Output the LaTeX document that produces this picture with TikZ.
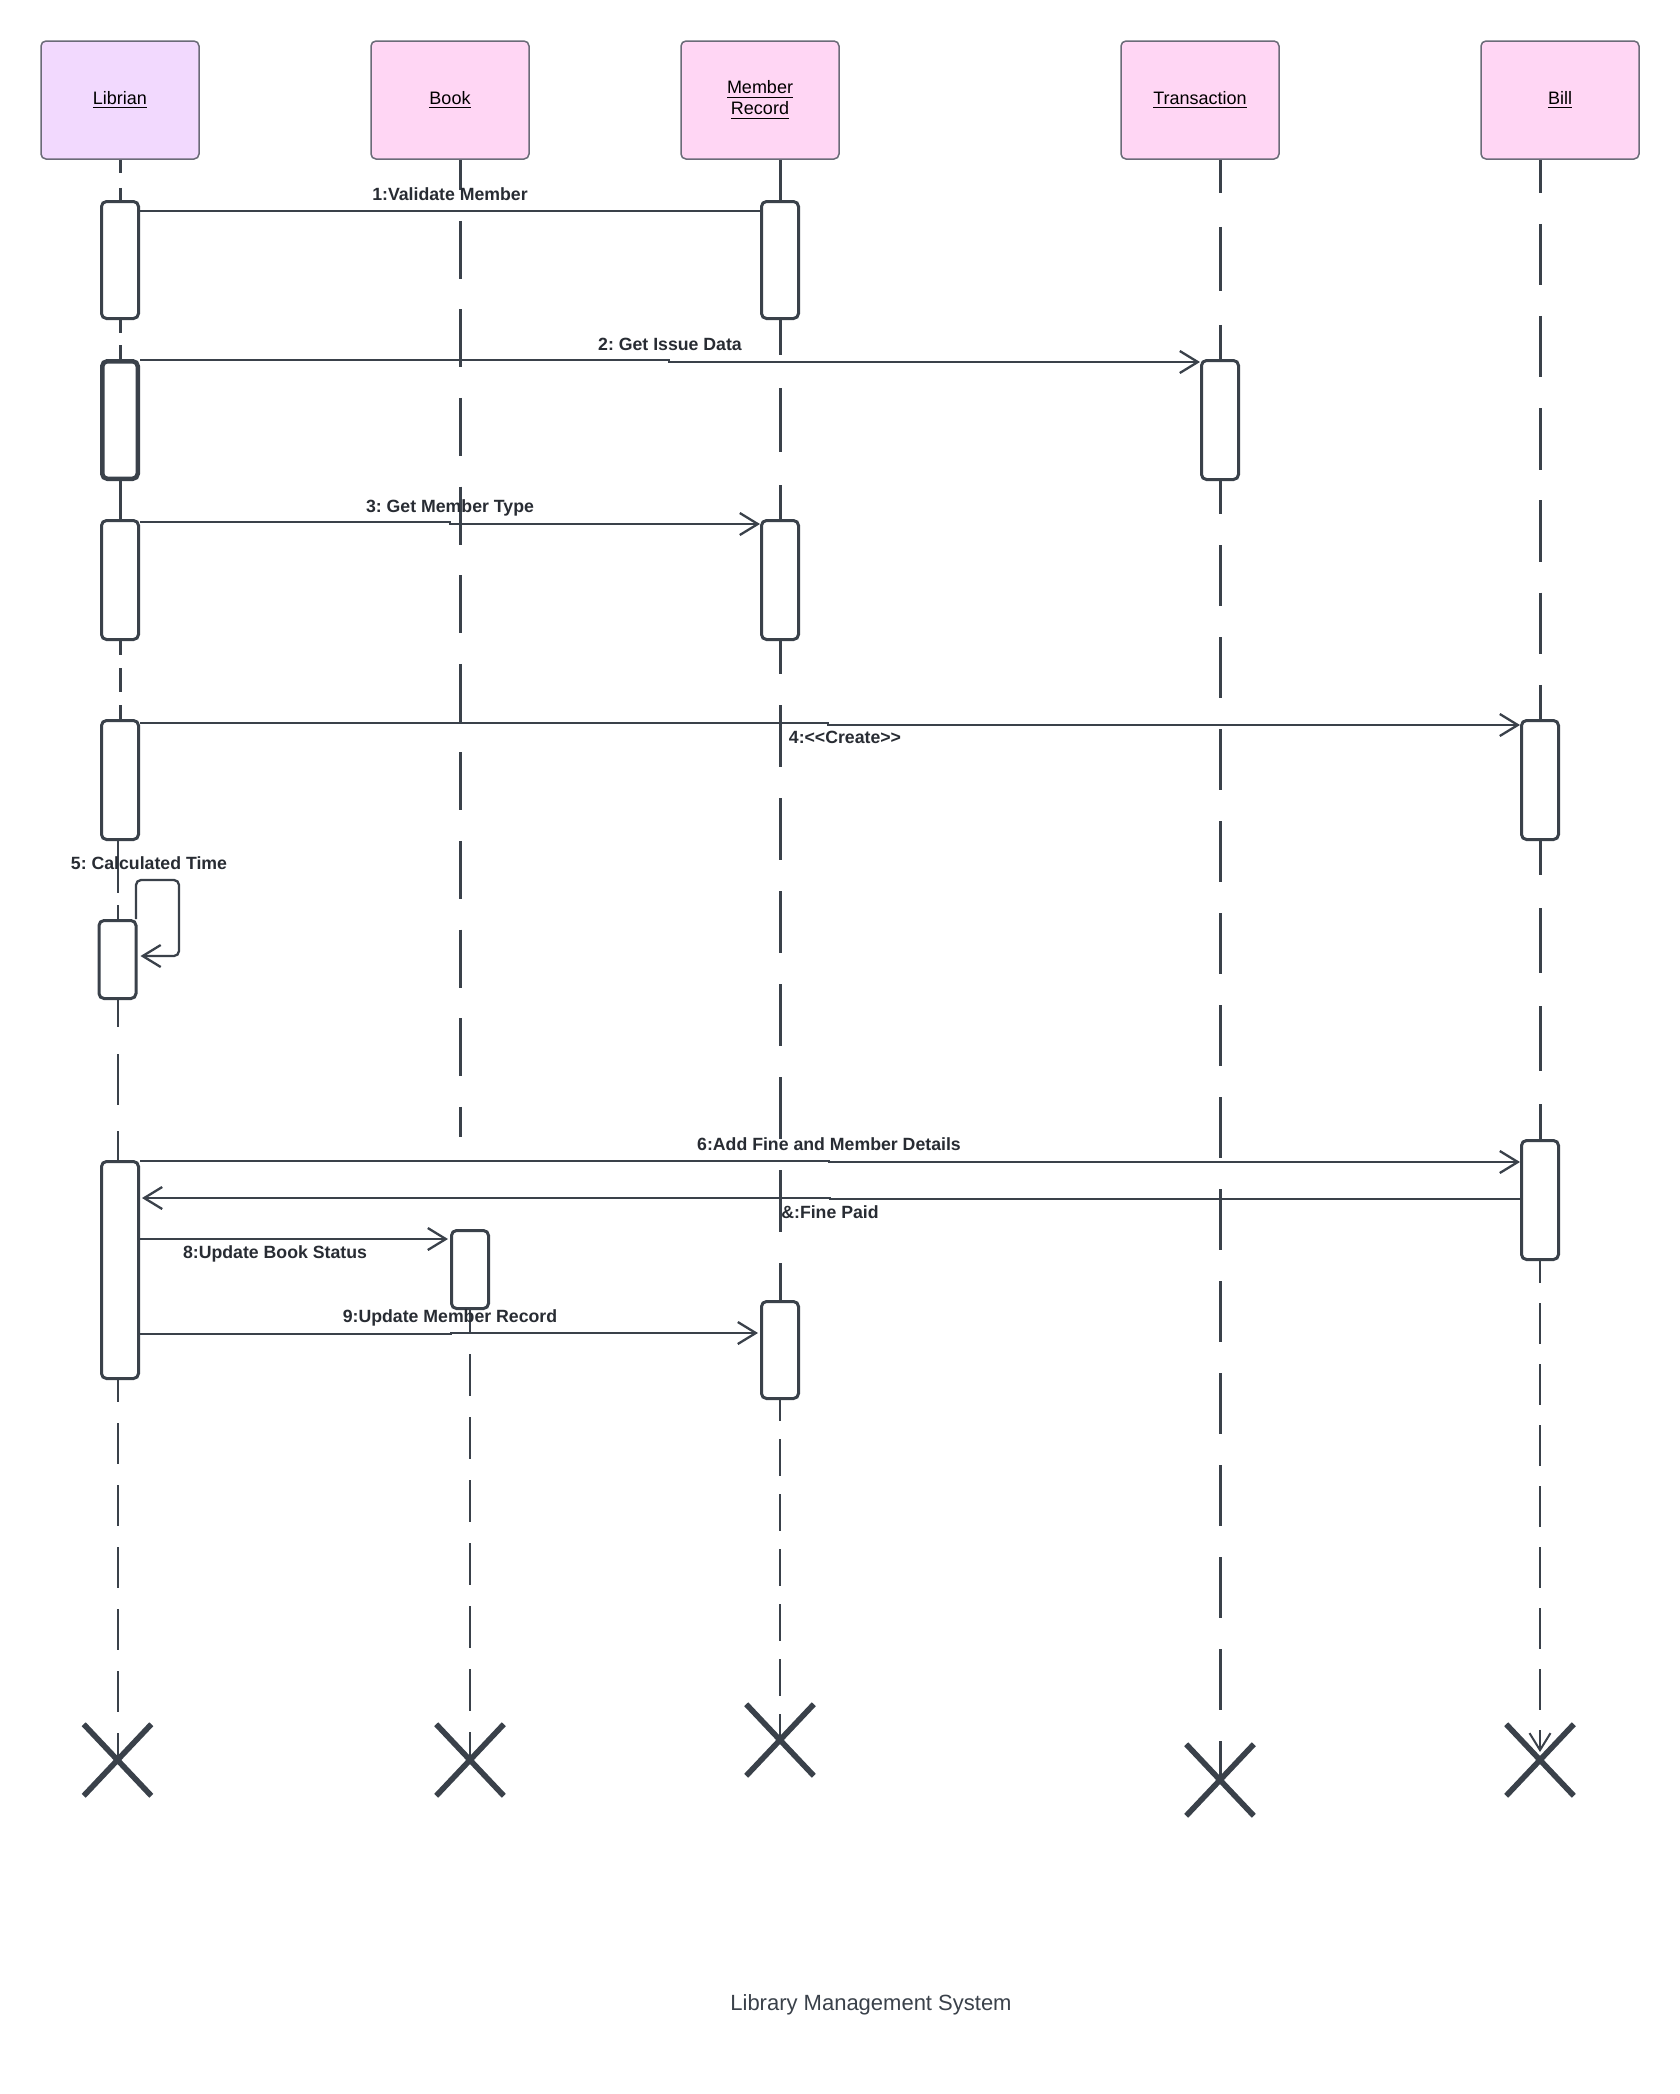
\documentclass[tikz,border=0pt]{standalone}
\usepackage{fontspec}
\setmainfont{Liberation Sans}
\usetikzlibrary{arrows.meta,shapes.misc}
\definecolor{ink}{HTML}{3A414A}
\definecolor{txt}{HTML}{282C33}
\definecolor{headline}{HTML}{6B6B78}
\definecolor{lilac}{HTML}{F2D9FE}
\definecolor{pinkfill}{HTML}{FFD6F4}
\frenchspacing

\begin{document}
\begin{tikzpicture}[x=0.5pt,y=-0.5pt,
  head/.style={draw=headline, line width=0.75pt, rounded corners=2.5pt, fill=pinkfill,
    minimum width=79pt, minimum height=59pt, inner sep=0pt, align=center,
    font=\fontsize{9}{10.5}\selectfont, text=black},
  act/.style={draw=ink, fill=white, line width=1.5pt, rounded corners=2.5pt,
    minimum width=18.5pt, inner sep=0pt},
  life/.style={draw=ink, line width=1.5pt},
  thinlife/.style={draw=ink, line width=1pt},
  plainmsg/.style={draw=ink, line width=1.15pt},
  msg/.style={plainmsg, -{Straight Barb[length=9pt,width=11pt]}},
  lbl/.style={font=\bfseries\fontsize{8.85}{10}\selectfont, text=txt, inner sep=0pt,
    text height=1.5ex, text depth=0.25ex},
  destroy/.style={cross out, draw=ink, line width=2.8pt, minimum width=31pt,
    minimum height=33pt, inner sep=0pt},
]
\fill[white] (0,0) rectangle (1680,2094);
\useasboundingbox (0,0) rectangle (1680,2094);

% object heads
\node[head, fill=lilac] (libH) at (120,100) {\underline{Librian}};
\node[head] (bookH) at (450,100) {\underline{Book}};
\node[head] (mrH) at (760,100) {\underline{Member}\\\underline{Record}};
\node[head] (trH) at (1200,100) {\underline{Transaction}};
\node[head] (billH) at (1560,100) {\underline{Bill}};

% activation bars
\node[act, minimum height=58.5pt] (a1) at (120,260) {};
\node[act, minimum height=58.75pt, minimum width=17.75pt, line width=2.25pt] (a2) at (120,420) {};
\node[act, minimum height=59.5pt] (a3) at (120,580) {};
\node[act, minimum height=59.5pt] (a4) at (120,780) {};
\node[act, minimum height=39pt] (a5) at (117.5,959.5) {};
\node[act, minimum height=108.5pt] (a6) at (120,1270) {};
\node[act, minimum height=58.5pt] (m1) at (780,260) {};
\node[act, minimum height=59.5pt] (m2) at (780,580) {};
\node[act, minimum height=48.5pt] (m3) at (780,1350) {};
\node[act, minimum height=59.5pt] (t1) at (1220,420) {};
\node[act, minimum height=59.5pt] (b1) at (1540,780) {};
\node[act, minimum height=59.5pt] (b2) at (1540,1200) {};
\node[act, minimum height=39pt] (k1) at (470,1269.5) {};

% destruction marks
\node[destroy] (libX) at (117.5,1760) {};
\node[destroy] (bookX) at (470,1760) {};
\node[destroy] (mrX) at (780,1740) {};
\node[destroy] (trX) at (1220,1780) {};
\node[destroy] (billX) at (1540,1760) {};

\coordinate (bookEnd) at (460,1137);
\coordinate (billEnd) at (1540,1752);

% lifelines: Librian
\draw[life, dash pattern=on 6.5pt off 7.5pt on 6pt off 50pt] (libH.south) -- (a1.north);
\draw[life, dash pattern=on 6.5pt off 6pt on 7pt off 50pt] (a1.south) -- (a2.north);
\draw[life] (a2.south) -- (a3.north);
\draw[life, dash pattern=on 7pt off 6.5pt on 12pt off 6.5pt on 7pt off 50pt] (a3.south) -- (a4.north);
\draw[thinlife, dash pattern=on 26pt off 6pt on 7pt off 50pt] (a4.south -| a5.north) -- (a5.north);
\draw[thinlife, dash pattern=on 13.5pt off 13.5pt on 25.5pt off 13pt on 14.5pt off 50pt] (a5.south) -- (a5.south |- a6.north);
\draw[thinlife, dash pattern=on 20.5pt off 10.5pt, dash phase=9.5pt] (a5.south |- a6.south) -- (libX.center);

% lifelines: Book
\draw[life, dash pattern=on 29pt off 15.3pt, dash phase=13.8pt] ([xshift=5pt]bookH.south) -- (bookEnd);
\draw[thinlife, dash pattern=on 21pt off 10.5pt, dash phase=9.5pt] (k1.south) -- (bookX.center);

% lifelines: Member Record
\draw[life] (m1.north |- mrH.south) -- (m1.north);
\draw[life, dash pattern=on 31.75pt off 16.75pt, dash phase=14.5pt] (m1.south) -- (m2.north);
\draw[life, dash pattern=on 31pt off 15.5pt, dash phase=14.5pt] (m2.south) -- (m3.north);
\draw[thinlife, dash pattern=on 18.5pt off 9pt, dash phase=8pt] (m3.south) -- (mrX.center);

% lifelines: Transaction
\draw[life, dash pattern=on 32pt off 17pt, dash phase=15.5pt] (t1.north |- trH.south) -- (t1.north);
\draw[life, dash pattern=on 30.25pt off 15.75pt, dash phase=14pt] (t1.south) -- (trX.center);

% lifelines: Bill
\draw[life, dash pattern=on 30.75pt off 15.35pt, dash phase=14.1pt] (b1.north |- billH.south) -- (b1.north);
\draw[life, dash pattern=on 32.5pt off 16.5pt, dash phase=15.5pt] (b1.south) -- (b2.north);
\draw[thinlife, dash pattern=on 20.5pt off 10pt, dash phase=9.5pt,
  -{Straight Barb[length=8.5pt,width=10.5pt]}] (b2.south) -- (billEnd);

% messages
\draw[plainmsg] ([yshift=-5.5pt]a1.north east) -- ([yshift=-5.5pt]a1.north east -| m1.west);
\draw[msg] ([yshift=-0.5pt]a2.north east) -- ++(529,0) -- ++(0,2) -- ([yshift=-1.5pt]t1.north west);
\draw[msg] ([yshift=-1.5pt]a3.north east) -- ++(310,0) -- ++(0,2) -- ([yshift=-2.5pt]m2.north west);
\draw[msg] ([yshift=-2pt]a4.north east) -- ++(688,0) -- ++(0,2) -- ([yshift=-3pt]b1.north west);
\draw[msg, rounded corners=2.5pt] ([xshift=-0.75pt]a5.north east) -- ++(0,-39) -- ++(43,0) -- ++(0,76)
  -- ([xshift=1.5pt,yshift=-18.5pt]a5.north east);
\draw[msg] ([yshift=-0.5pt]a6.north east) -- ++(689,0) -- ++(0,1) -- ([yshift=-11.5pt]b2.north west);
\draw[msg] ([yshift=-30pt]b2.north west) -- ++(-690,0) -- ++(0,-1) -- ([xshift=1pt,yshift=-19pt]a6.north east);
\draw[msg] ([yshift=-39.5pt]a6.north east) -- ([xshift=-1pt,yshift=-5pt]k1.north west);
\draw[msg] ([yshift=-87pt]a6.north east) -- ++(311,0) -- ++(0,-1) -- ([xshift=-1pt,yshift=-16.5pt]m3.north west);

% message labels
\node[lbl] (l1) at (450,194) {1:Validate Member};
\node[lbl] (l2) at (670,344) {2: Get Issue Data};
\node[lbl] (l3) at (450,506) {3: Get Member Type};
\node[lbl] (l4) at (845,737) {4:<\kern0pt<Create>\kern0pt>};
\node[lbl] (l5) at (149,863) {5: Calculated Time};
\node[lbl] (l6) at (829,1144) {6:Add Fine and Member Details};
\node[lbl] (l7) at (830,1212) {\&:Fine Paid};
\node[lbl] (l8) at (275,1252) {8:Update Book Status};
\node[lbl] (l9) at (450,1316) {9:Update Member Record};

% caption
\node[font=\fontsize{11}{13}\selectfont, text=ink, inner sep=0pt, text height=1.5ex, text depth=0.25ex]
  (title) at (871,2004) {Library Management System};
\end{tikzpicture}
\end{document}
